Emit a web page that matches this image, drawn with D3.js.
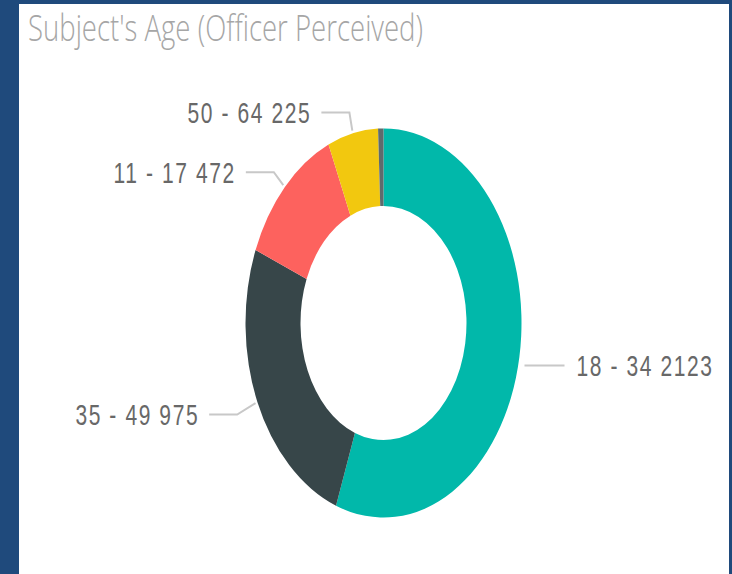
<!DOCTYPE html>
<html>
<head>
<meta charset="utf-8">
<script src="https://cdn.jsdelivr.net/npm/d3@7"></script>
<style>
  html, body { margin: 0; padding: 0; background: #1f4a7c; }
  svg { display: block; }
</style>
</head>
<body>
<div id="chart"></div>
<script>
// Data
var categories = ["18 - 34", "35 - 49", "11 - 17", "50 - 64", "65+"];
var counts = [2123, 975, 472, 225, 24];
var showLabel = [true, true, true, true, false];
var colors = ["#01B8AA", "#374649", "#FD625E", "#F2C80F", "#5F6B6D"];

var svgWidth = 732;
var svgHeight = 574;

// the visual is stretched vertically
var sy = 1.41;

var svg = d3.select("#chart")
    .append("svg")
    .attr("width", svgWidth)
    .attr("height", svgHeight);

// white panel inside the blue frame
svg.append("rect")
    .attr("x", 19)
    .attr("y", 4)
    .attr("width", 710)
    .attr("height", 570)
    .attr("fill", "#ffffff");

// title
svg.append("g")
    .attr("transform", `scale(1, ${sy})`)
    .append("text")
    .attr("x", 28)
    .attr("y", 29)
    .attr("font-family", "'Open Sans', sans-serif")
    .attr("font-weight", 300)
    .attr("font-size", 26)
    .attr("fill", "#a6a6a6")
    .attr("textLength", 395)
    .attr("lengthAdjust", "spacingAndGlyphs")
    .text("Subject's Age (Officer Perceived)");

var cx = 383.5;
var cy = 323 / sy;
var outerR = 138;
var innerR = 83;

var chartGroup = svg.append("g")
    .attr("transform", `scale(1, ${sy}) translate(${cx}, ${cy})`);

var data = categories.map(function(c, i) {
    return { cat: c, value: counts[i], color: colors[i], show: showLabel[i] };
});

var pie = d3.pie()
    .sort(null)
    .value(d => d.value);

var arc = d3.arc()
    .innerRadius(innerR)
    .outerRadius(outerR);

var arcs = pie(data);

chartGroup.selectAll("path.slice")
    .data(arcs)
    .enter()
    .append("path")
    .attr("class", "slice")
    .attr("d", arc)
    .attr("fill", d => d.data.color);

// leader lines and labels
function pointAt(angle, r) {
    return [Math.sin(angle) * r, -Math.cos(angle) * r];
}

var labelArcs = arcs.filter(d => d.data.show);

labelArcs.forEach(function(d) {
    var mid = (d.startAngle + d.endAngle) / 2;
    var right = Math.sin(mid) > 0;
    var side = Math.abs(Math.cos(mid)) < 0.25;
    var p0, p1, p2;
    if (side) {
        // slices near the side get a straight line
        var yy = pointAt(mid, outerR * 1.25)[1];
        p0 = [(right ? 1 : -1) * (outerR + 3), yy];
        p1 = p0;
        p2 = [p0[0] + (right ? 40 : -40), yy];
    } else {
        var elbowR = Math.cos(mid) < 0 ? outerR * 1.16 : outerR * 1.11;
        p0 = pointAt(mid, outerR + 2);
        p1 = pointAt(mid, elbowR);
        p2 = [p1[0] + (right ? 28 : -28), p1[1]];
    }

    chartGroup.append("polyline")
        .attr("points", [p0, p1, p2].map(p => p.join(",")).join(" "))
        .attr("fill", "none")
        .attr("stroke", "#c8c8c8")
        .attr("stroke-width", 2)
        .attr("vector-effect", "non-scaling-stroke");

    chartGroup.append("text")
        .attr("x", p2[0] + (right ? 12 : -10))
        .attr("y", p2[1])
        .attr("dy", "0.35em")
        .attr("text-anchor", right ? "start" : "end")
        .attr("font-family", "'Liberation Sans', Arial, sans-serif")
        .attr("font-size", 21)
        .attr("letter-spacing", 1.6)
        .attr("fill", "#686868")
        .text(d.data.cat + " " + d.data.value);
});
</script>
</body>
</html>
